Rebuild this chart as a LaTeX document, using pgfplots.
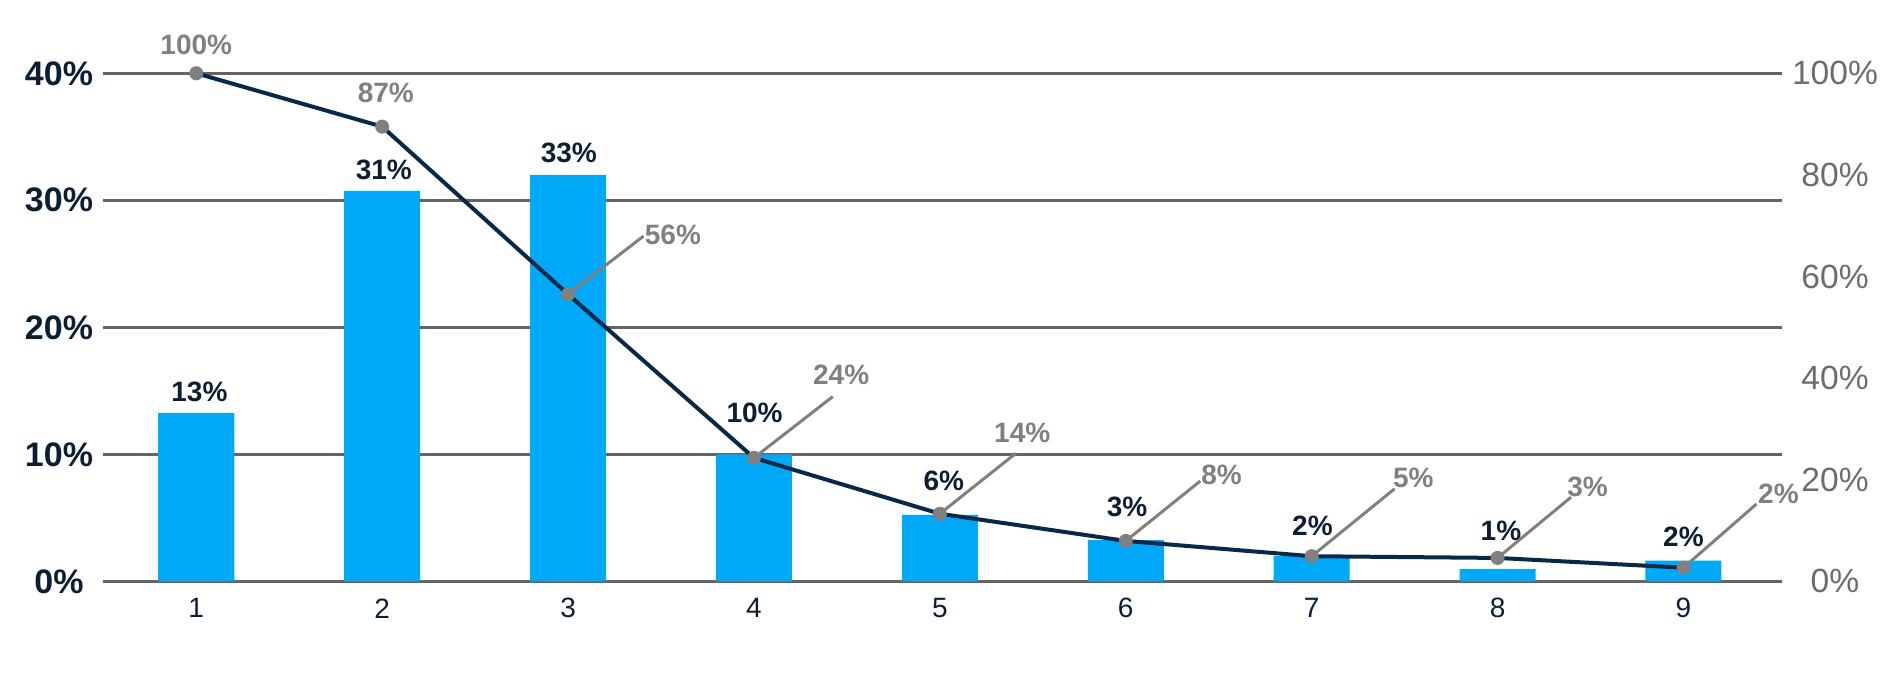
\documentclass[border=0pt]{standalone}
\usepackage{fontspec}
\setmainfont{Liberation Sans}
\usepackage{pgfplots}
\pgfplotsset{compat=1.18}
\definecolor{barblue}{RGB}{0,169,247}
\definecolor{navy}{RGB}{12,30,52}
\definecolor{linenavy}{RGB}{8,40,72}
\definecolor{ptgray}{RGB}{128,128,128}
\definecolor{rgray}{RGB}{108,108,108}
\definecolor{gridgray}{RGB}{100,100,100}
\newcommand\lblfont{\fontsize{14}{16}\selectfont\bfseries}
\begin{document}
\begin{tikzpicture}
\path[use as bounding box] (-51.65pt,-51.85pt) rectangle (897.85pt,290.65pt);
% ---------- left axis: bars ----------
\begin{axis}[
  at={(0pt,0pt)}, anchor=south west,
  width=839.35pt, height=254pt, scale only axis,
  xmin=0.5, xmax=9.53, ymin=0, ymax=40,
  xtick={1,2,3,4,5,6,7,8,9}, xticklabels={1,2,3,4,5,6,7,8,9},
  ytick={0,10,20,30,40}, yticklabels={0\%,10\%,20\%,30\%,40\%},
  ymajorgrids, grid style={line width=1.25pt, color=gridgray},
  axis line style={draw=none}, major tick length=0pt,
  xticklabel style={font=\fontsize{14}{16}\selectfont, text=navy, anchor=center, yshift=-13.5pt},
  yticklabel style={font=\fontsize{17}{20}\selectfont\bfseries, text=navy, anchor=center, xshift=-22.15pt},
  clip=false,
]
\addplot[ybar, bar width=0.409, fill=barblue, draw=none] coordinates {
  (1,13.25) (2,30.74) (3,31.98) (4,10.0) (5,5.23) (6,3.24) (7,1.99) (8,0.96) (9,1.62)};
\node[anchor=base, text=navy, font=\lblfont] at (axis cs:1.017,14.17) {13\%};
\node[anchor=base, text=navy, font=\lblfont] at (axis cs:2.009,31.65) {31\%};
\node[anchor=base, text=navy, font=\lblfont] at (axis cs:3.004,32.96) {33\%};
\node[anchor=base, text=navy, font=\lblfont] at (axis cs:4.003,12.54) {10\%};
\node[anchor=base, text=navy, font=\lblfont] at (axis cs:5.021,7.14) {6\%};
\node[anchor=base, text=navy, font=\lblfont] at (axis cs:6.007,5.14) {3\%};
\node[anchor=base, text=navy, font=\lblfont] at (axis cs:7.004,3.61) {2\%};
\node[anchor=base, text=navy, font=\lblfont] at (axis cs:8.018,3.25) {1\%};
\node[anchor=base, text=navy, font=\lblfont] at (axis cs:9.0,2.73) {2\%};
\end{axis}
% ---------- right axis: cumulative line ----------
\begin{axis}[
  at={(0pt,0pt)}, anchor=south west,
  width=839.35pt, height=254pt, scale only axis,
  xmin=0.5, xmax=9.53, ymin=0, ymax=100,
  hide x axis, axis y line*=right, y axis line style={draw=none},
  ytick={0,20,40,60,80,100}, yticklabels={0\%,20\%,40\%,60\%,80\%,100\%},
  major tick length=0pt,
  yticklabel style={font=\fontsize{16.8}{19}\selectfont, text=rgray, anchor=center, xshift=26.5pt},
  clip=false,
]
% leader lines
\addplot[ptgray, line width=1.5pt, forget plot] coordinates {(3,56.5) (3.406,67.95)};
\addplot[ptgray, line width=1.5pt, forget plot] coordinates {(4,24.3) (4.424,36.36)};
\addplot[ptgray, line width=1.5pt, forget plot] coordinates {(5,13.3) (5.408,25.18)};
\addplot[ptgray, line width=1.5pt, forget plot] coordinates {(6,7.95) (6.401,19.74)};
\addplot[ptgray, line width=1.5pt, forget plot] coordinates {(7,4.94) (7.446,18.21)};
\addplot[ptgray, line width=1.5pt, forget plot] coordinates {(8,4.6) (8.395,16.56)};
\addplot[ptgray, line width=1.5pt, forget plot] coordinates {(9,2.68) (9.393,15.22)};
% cumulative line
\addplot[linenavy, line width=2pt, mark=*, mark size=3.3pt,
  mark options={draw=ptgray, fill=ptgray, line width=0.4pt}] coordinates {
  (1,100) (2,89.5) (3,56.5) (4,24.3) (5,13.3) (6,7.95) (7,4.94) (8,4.6) (9,2.68)};
\node[anchor=base, text=ptgray, font=\lblfont] at (axis cs:1.0,103.66) {100\%};
\node[anchor=base, text=ptgray, font=\lblfont] at (axis cs:2.02,94.19) {87\%};
\node[anchor=base, text=ptgray, font=\lblfont] at (axis cs:3.564,66.22) {56\%};
\node[anchor=base, text=ptgray, font=\lblfont] at (axis cs:4.469,38.68) {24\%};
\node[anchor=base, text=ptgray, font=\lblfont] at (axis cs:5.443,27.32) {14\%};
\node[anchor=base, text=ptgray, font=\lblfont] at (axis cs:6.515,19.06) {8\%};
\node[anchor=base, text=ptgray, font=\lblfont] at (axis cs:7.547,18.46) {5\%};
\node[anchor=base, text=ptgray, font=\lblfont] at (axis cs:8.484,16.73) {3\%};
\node[anchor=base, text=ptgray, font=\lblfont] at (axis cs:9.511,15.28) {2\%};
\end{axis}
\end{tikzpicture}
\end{document}
